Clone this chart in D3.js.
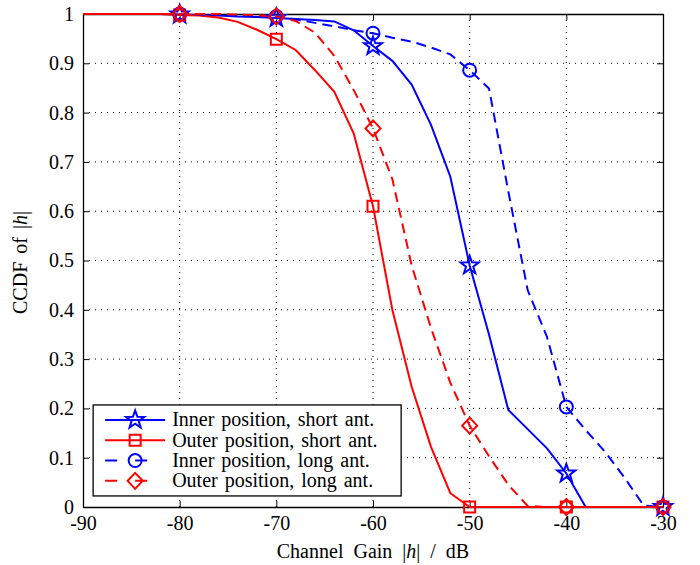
<!DOCTYPE html>
<html>
<head>
<meta charset="utf-8">
<script src="https://cdn.jsdelivr.net/npm/d3@7"></script>
<style>
  body { margin: 0; background: #fff; }
  svg text { font-family: "Liberation Serif", "DejaVu Serif", serif; fill: #000; }
</style>
</head>
<body>
<div id="chart"></div>
<script>
// Channel gain grid (dB)
var gainDb = [-90, -88, -86, -84, -82, -80, -78, -76, -74, -72, -70, -68, -66, -64, -62, -60,
	-58, -56, -54, -52, -50, -48, -46, -44, -42, -40, -38, -36, -34, -32, -30];

var innerShort = [1, 1, 1, 1, 1, 0.999, 0.998, 0.997, 0.995, 0.994, 0.992, 0.99, 0.988, 0.985, 0.967, 0.935,
	0.905, 0.857, 0.775, 0.67, 0.49, 0.35, 0.197, 0.158, 0.119, 0.068, 0, 0, 0, 0, 0];
var outerShort = [1, 1, 1, 1, 1, 0.998, 0.997, 0.993, 0.984, 0.968, 0.949, 0.927, 0.886, 0.842, 0.758, 0.61,
	0.40, 0.244, 0.122, 0.028, 0, 0, 0, 0, 0, 0, 0, 0, 0, 0, 0];
var innerLong = [1, 1, 1, 1, 1, 1, 0.999, 0.998, 0.997, 0.996, 0.995, 0.989, 0.982, 0.975, 0.967, 0.961,
	0.952, 0.944, 0.932, 0.918, 0.886, 0.849, 0.64, 0.44, 0.345, 0.203, 0.156, 0.112, 0.06, 0.003, 0];
var outerLong = [1, 1, 1, 1, 1, 1, 1, 1, 0.999, 0.998, 0.995, 0.986, 0.962, 0.915, 0.846, 0.768,
	0.665, 0.49, 0.363, 0.252, 0.165, 0.103, 0.045, 0.002, 0, 0, 0, 0, 0, 0, 0];

var markerDb = [-80, -70, -60, -50, -40, -30];
var xTicks = [-90, -80, -70, -60, -50, -40, -30];
var yTicks = [0, 0.1, 0.2, 0.3, 0.4, 0.5, 0.6, 0.7, 0.8, 0.9, 1];

var seriesNames = ["Inner position, short ant.", "Outer position, short ant.",
	"Inner position, long ant.", "Outer position, long ant."];

var series = [
	{ name: seriesNames[0], values: innerShort, color: "#0000ff", dash: null, marker: "star" },
	{ name: seriesNames[1], values: outerShort, color: "#ff0000", dash: null, marker: "square" },
	{ name: seriesNames[2], values: innerLong, color: "#0000ff", dash: "10,6", marker: "circle" },
	{ name: seriesNames[3], values: outerLong, color: "#ff0000", dash: "10,6", marker: "diamond" }
];

var serif = "'Liberation Serif', 'DejaVu Serif', serif";

///////////////////////////////////////////////////////////////////////////
////////////////////////////// Set up the svg /////////////////////////////
///////////////////////////////////////////////////////////////////////////

var svgW = 700, svgH = 565;
var margin = { left: 83, top: 14, right: 37, bottom: 58 },
	width = svgW - margin.left - margin.right,
	height = svgH - margin.top - margin.bottom;

var svg = d3.select("#chart")
	.append("svg")
	.attr("width", svgW)
	.attr("height", svgH)
	.append("g")
	.attr("transform", "translate(" + margin.left + "," + margin.top + ")");

var x = d3.scaleLinear().domain([-90, -30]).range([0, width]);
var y = d3.scaleLinear().domain([0, 1]).range([height, 0]);

// Dotted grid
svg.append("g").selectAll("line")
	.data(xTicks.slice(1, -1))
	.enter().append("line")
	.attr("x1", function(d) { return x(d); })
	.attr("x2", function(d) { return x(d); })
	.attr("y1", 0).attr("y2", height)
	.attr("stroke", "#000").attr("stroke-width", 1)
	.attr("stroke-dasharray", "1,5");
svg.append("g").selectAll("line")
	.data(yTicks.slice(1, -1))
	.enter().append("line")
	.attr("y1", function(d) { return y(d); })
	.attr("y2", function(d) { return y(d); })
	.attr("x1", 0).attr("x2", width)
	.attr("stroke", "#000").attr("stroke-width", 1)
	.attr("stroke-dasharray", "1,5");

// Axes (ticks pointing inward, on all four sides)
var tickLen = 6;
svg.append("g")
	.attr("class", "axis")
	.attr("transform", "translate(0," + height + ")")
	.call(d3.axisBottom(x).tickValues(xTicks).tickSizeInner(-tickLen).tickSizeOuter(0)
		.tickPadding(9).tickFormat(function(d) { return String(d); }));
svg.append("g")
	.attr("class", "axis")
	.call(d3.axisTop(x).tickValues(xTicks).tickSizeInner(-tickLen).tickSizeOuter(0).tickFormat(""));
svg.append("g")
	.attr("class", "axis")
	.call(d3.axisLeft(y).tickValues(yTicks).tickSizeInner(-tickLen).tickSizeOuter(0)
		.tickPadding(9).tickFormat(function(d) { return d === 0 || d === 1 ? String(d) : d3.format(".1f")(d); }));
svg.append("g")
	.attr("class", "axis")
	.attr("transform", "translate(" + width + ",0)")
	.call(d3.axisRight(y).tickValues(yTicks).tickSizeInner(-tickLen).tickSizeOuter(0).tickFormat(""));

svg.selectAll(".axis")
	.attr("font-family", serif)
	.attr("font-size", 20);
svg.selectAll(".axis path").attr("stroke", "#000").attr("stroke-width", 1.3);
svg.selectAll(".axis line").attr("stroke", "#000");
svg.selectAll(".axis text").attr("fill", "#000");

///////////////////////////////////////////////////////////////////////////
////////////////////////////// Marker shapes //////////////////////////////
///////////////////////////////////////////////////////////////////////////

function markerPath(type) {
	if (type === "star") {
		var pts = [];
		for (var i = 0; i < 10; i++) {
			var r = i % 2 === 0 ? 9.5 : 3.8;
			var a = -Math.PI / 2 + i * Math.PI / 5;
			pts.push([r * Math.cos(a), r * Math.sin(a)]);
		}
		return "M" + pts.join("L") + "Z";
	}
	if (type === "square") return "M-5.5,-5.5H5.5V5.5H-5.5Z";
	if (type === "diamond") return "M0,-8L7.5,0L0,8L-7.5,0Z";
	return "M6.5,0A6.5,6.5 0 1,1 -6.5,0A6.5,6.5 0 1,1 6.5,0Z";
}

///////////////////////////////////////////////////////////////////////////
////////////////////////////// Draw the lines /////////////////////////////
///////////////////////////////////////////////////////////////////////////

var line = d3.line()
	.x(function(d) { return x(d[0]); })
	.y(function(d) { return y(d[1]); });

series.forEach(function(s) {
	var pts = gainDb.map(function(g, i) { return [g, s.values[i]]; });
	svg.append("path")
		.datum(pts)
		.attr("d", line)
		.attr("fill", "none")
		.attr("stroke", s.color)
		.attr("stroke-width", 2)
		.attr("stroke-dasharray", s.dash);
});

series.forEach(function(s) {
	var pts = markerDb.map(function(g) { return [g, s.values[gainDb.indexOf(g)]]; });
	svg.append("g").selectAll("path")
		.data(pts)
		.enter().append("path")
		.attr("transform", function(d) { return "translate(" + x(d[0]) + "," + y(d[1]) + ")"; })
		.attr("d", markerPath(s.marker))
		.attr("fill", "none")
		.attr("stroke", s.color)
		.attr("stroke-width", 2);
});

///////////////////////////////////////////////////////////////////////////
////////////////////////////// Axis titles ////////////////////////////////
///////////////////////////////////////////////////////////////////////////

var xTitle = svg.append("text")
	.attr("x", width / 2)
	.attr("y", height + 51)
	.attr("text-anchor", "middle")
	.attr("font-family", serif)
	.attr("font-size", 20)
	.attr("word-spacing", 5);
xTitle.append("tspan").text("Channel Gain |");
xTitle.append("tspan").style("font-style", "italic").text("h");
xTitle.append("tspan").text("| / dB");

var yTitle = svg.append("text")
	.attr("transform", "translate(" + (-56) + "," + (height / 2 + 2) + ") rotate(-90)")
	.attr("text-anchor", "middle")
	.attr("font-family", serif)
	.attr("font-size", 20)
	.attr("word-spacing", 3);
yTitle.append("tspan").text("CCDF of |");
yTitle.append("tspan").style("font-style", "italic").text("h");
yTitle.append("tspan").text("|");

///////////////////////////////////////////////////////////////////////////
//////////////////////////////// Legend ///////////////////////////////////
///////////////////////////////////////////////////////////////////////////

var legend = svg.append("g")
	.attr("transform", "translate(" + (x(-88.95)) + "," + (y(0.207)) + ")");

legend.append("rect")
	.attr("width", 308)
	.attr("height", 91)
	.attr("fill", "#fff")
	.attr("stroke", "#000")
	.attr("stroke-width", 1.3);

var rows = legend.selectAll(".row")
	.data(series)
	.enter().append("g")
	.attr("transform", function(d, i) { return "translate(0," + (15 + i * 20.3) + ")"; });

rows.append("line")
	.attr("x1", 12).attr("x2", 72)
	.attr("stroke", function(d) { return d.color; })
	.attr("stroke-width", 2)
	.attr("stroke-dasharray", function(d) { return d.dash ? "12,18" : null; });

rows.append("path")
	.attr("transform", "translate(42,0)")
	.attr("d", function(d) { return markerPath(d.marker); })
	.attr("fill", "none")
	.attr("stroke", function(d) { return d.color; })
	.attr("stroke-width", 2);

rows.append("text")
	.attr("x", 79)
	.attr("y", 6.5)
	.attr("font-family", serif)
	.attr("font-size", 20)
	.attr("word-spacing", 2)
	.text(function(d) { return d.name; });
</script>
</body>
</html>
